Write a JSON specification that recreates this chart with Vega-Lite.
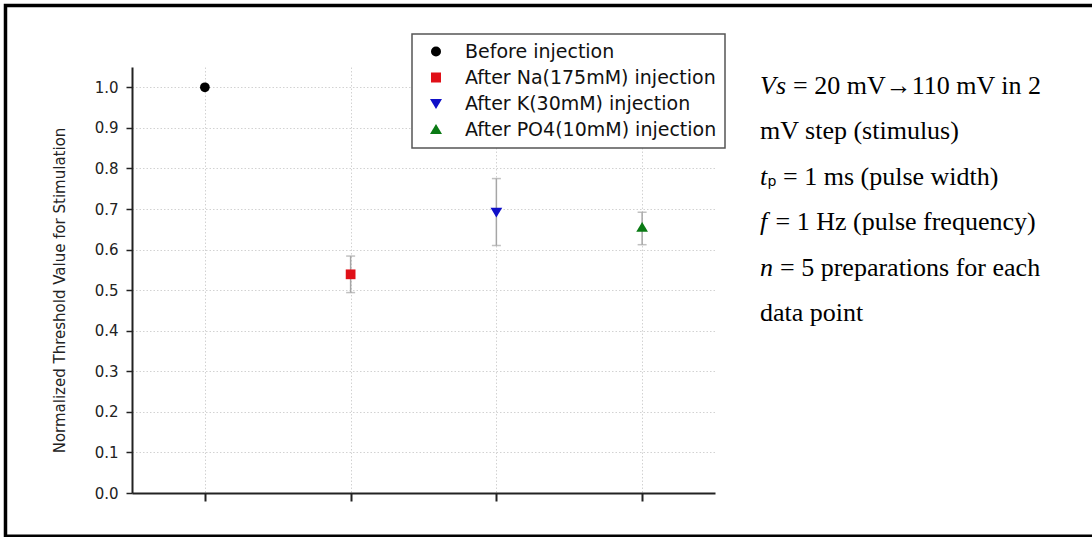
{
  "$schema": "https://vega.github.io/schema/vega-lite/v6.json",
  "width": 583,
  "height": 426,
  "autosize": {"type": "none"},
  "padding": {"left": 132, "top": 67, "right": 377, "bottom": 44},
  "background": "white",
  "config": {
    "view": {"stroke": null},
    "axis": {
      "labelFont": "DejaVu Sans",
      "titleFont": "DejaVu Sans",
      "domainColor": "#222222",
      "domainWidth": 2,
      "tickColor": "#222222",
      "tickWidth": 1.5,
      "gridColor": "#d2d2d2",
      "gridDash": [1.5, 2],
      "gridWidth": 1,
      "labelColor": "#222222",
      "titleColor": "#222222"
    },
    "legend": {
      "strokeWidth": 1.5
    }
  },
  "datasets": {
    "measurements": [
      {"group": "Before injection", "idx": 1, "value": 1.0, "lo": null, "hi": null},
      {"group": "After Na(175mM) injection", "idx": 2, "value": 0.539, "lo": 0.494, "hi": 0.584},
      {"group": "After K(30mM) injection", "idx": 3, "value": 0.692, "lo": 0.61, "hi": 0.775},
      {"group": "After PO4(10mM) injection", "idx": 4, "value": 0.655, "lo": 0.612, "hi": 0.692}
    ]
  },
  "data": {"name": "measurements"},
  "layer": [
    {
      "mark": {"type": "rule", "color": "#a6a6a6", "strokeWidth": 1.5},
      "transform": [{"filter": "datum.lo != null"}],
      "encoding": {
        "x": {"field": "idx", "type": "quantitative", "scale": {"domain": [0.5, 4.5], "nice": false, "zero": false}, "title": null},
        "y": {"field": "lo", "type": "quantitative", "scale": {"domain": [0, 1.05], "nice": false, "zero": false}, "title": "Normalized Threshold Value for Stimulation"},
        "y2": {"field": "hi"}
      }
    },
    {
      "mark": {"type": "tick", "orient": "horizontal", "size": 9, "thickness": 1.5, "color": "#a6a6a6"},
      "transform": [{"filter": "datum.lo != null"}],
      "encoding": {
        "x": {"field": "idx", "type": "quantitative", "title": null},
        "y": {"field": "lo", "type": "quantitative", "title": "Normalized Threshold Value for Stimulation"}
      }
    },
    {
      "mark": {"type": "tick", "orient": "horizontal", "size": 9, "thickness": 1.5, "color": "#a6a6a6"},
      "transform": [{"filter": "datum.lo != null"}],
      "encoding": {
        "x": {"field": "idx", "type": "quantitative", "title": null},
        "y": {"field": "hi", "type": "quantitative", "title": "Normalized Threshold Value for Stimulation"}
      }
    },
    {
      "mark": {"type": "point", "filled": true, "opacity": 1, "size": 95},
      "encoding": {
        "x": {
          "field": "idx", "type": "quantitative", "title": null,
          "axis": {"values": [1, 2, 3, 4], "labels": false, "tickSize": 8, "tickWidth": 2, "grid": true}
        },
        "y": {
          "field": "value", "type": "quantitative",
          "title": "Normalized Threshold Value for Stimulation",
          "axis": {
            "values": [0, 0.1, 0.2, 0.3, 0.4, 0.5, 0.6, 0.7, 0.8, 0.9, 1.0],
            "format": ".1f",
            "labelFontSize": 15,
            "tickSize": 6,
            "labelPadding": 8,
            "titleFontSize": 15,
            "titleFontWeight": "normal",
            "titlePadding": 27,
            "titleY": 223,
            "grid": true
          }
        },
        "color": {
          "field": "group", "type": "nominal",
          "scale": {
            "domain": ["Before injection", "After Na(175mM) injection", "After K(30mM) injection", "After PO4(10mM) injection"],
            "range": ["#000000", "#e01018", "#1010c8", "#0a7a14"]
          },
          "legend": {
            "title": null, "orient": "none", "legendX": 280, "legendY": -33,
            "strokeColor": "#555555", "padding": 8, "fillColor": "white",
            "labelFont": "DejaVu Sans", "labelFontSize": 19, "labelColor": "#111111", "labelLimit": 400,
            "symbolSize": 100, "symbolOffset": 6.5, "labelOffset": 19.5, "rowPadding": 6, "symbolStrokeWidth": 0
          }
        },
        "shape": {
          "field": "group", "type": "nominal",
          "scale": {
            "domain": ["Before injection", "After Na(175mM) injection", "After K(30mM) injection", "After PO4(10mM) injection"],
            "range": ["circle", "square", "M-1.2,-0.9L1.2,-0.9L0,1.1Z", "M-1.2,0.9L1.2,0.9L0,-1.1Z"]
          },
          "legend": {
            "title": null, "orient": "none", "legendX": 280, "legendY": -33,
            "strokeColor": "#555555", "padding": 8, "fillColor": "white",
            "labelFont": "DejaVu Sans", "labelFontSize": 19, "labelColor": "#111111", "labelLimit": 400,
            "symbolSize": 100, "symbolOffset": 6.5, "labelOffset": 19.5, "rowPadding": 6, "symbolStrokeWidth": 0
          }
        }
      }
    },
    {
      "data": {"values": [{}]},
      "mark": {"type": "rect", "fill": null, "fillOpacity": 0, "stroke": "#000000", "strokeWidth": 3.5},
      "encoding": {
        "x": {"datum": -0.368}, "x2": {"datum": 7.114},
        "y": {"datum": -0.1067}, "y2": {"datum": 1.2016}
      }
    },
    {
      "data": {"values": [{}]},
      "mark": {"type": "text", "text": "Vs", "font": "Liberation Serif", "fontStyle": "italic", "fontSize": 26, "align": "left", "baseline": "middle", "color": "#000000"},
      "encoding": {"x": {"datum": 4.809}, "y": {"datum": 1.0032}}
    },
    {
      "data": {"values": [{}]},
      "mark": {"type": "text", "text": "= 20 mV→110 mV in 2", "font": "Liberation Serif", "fontSize": 26, "align": "left", "baseline": "middle", "dx": 33, "color": "#000000"},
      "encoding": {"x": {"datum": 4.809}, "y": {"datum": 1.0032}}
    },
    {
      "data": {"values": [{}]},
      "mark": {"type": "text", "text": "mV step (stimulus)", "font": "Liberation Serif", "fontSize": 26, "align": "left", "baseline": "middle", "color": "#000000"},
      "encoding": {"x": {"datum": 4.809}, "y": {"datum": 0.8913}}
    },
    {
      "data": {"values": [{}]},
      "mark": {"type": "text", "text": "t", "font": "Liberation Serif", "fontStyle": "italic", "fontSize": 26, "align": "left", "baseline": "middle", "color": "#000000"},
      "encoding": {"x": {"datum": 4.809}, "y": {"datum": 0.7794}}
    },
    {
      "data": {"values": [{}]},
      "mark": {"type": "text", "text": "p", "font": "DejaVu Sans", "fontSize": 14, "align": "left", "baseline": "middle", "dx": 7.5, "dy": 5, "color": "#000000"},
      "encoding": {"x": {"datum": 4.809}, "y": {"datum": 0.7794}}
    },
    {
      "data": {"values": [{}]},
      "mark": {"type": "text", "text": "= 1 ms (pulse width)", "font": "Liberation Serif", "fontSize": 26, "align": "left", "baseline": "middle", "dx": 23, "color": "#000000"},
      "encoding": {"x": {"datum": 4.809}, "y": {"datum": 0.7794}}
    },
    {
      "data": {"values": [{}]},
      "mark": {"type": "text", "text": "f", "font": "Liberation Serif", "fontStyle": "italic", "fontSize": 26, "align": "left", "baseline": "middle", "color": "#000000"},
      "encoding": {"x": {"datum": 4.809}, "y": {"datum": 0.6675}}
    },
    {
      "data": {"values": [{}]},
      "mark": {"type": "text", "text": "= 1 Hz (pulse frequency)", "font": "Liberation Serif", "fontSize": 26, "align": "left", "baseline": "middle", "dx": 15.5, "color": "#000000"},
      "encoding": {"x": {"datum": 4.809}, "y": {"datum": 0.6675}}
    },
    {
      "data": {"values": [{}]},
      "mark": {"type": "text", "text": "n", "font": "Liberation Serif", "fontStyle": "italic", "fontSize": 26, "align": "left", "baseline": "middle", "color": "#000000"},
      "encoding": {"x": {"datum": 4.809}, "y": {"datum": 0.5556}}
    },
    {
      "data": {"values": [{}]},
      "mark": {"type": "text", "text": "= 5 preparations for each", "font": "Liberation Serif", "fontSize": 26, "align": "left", "baseline": "middle", "dx": 20, "color": "#000000"},
      "encoding": {"x": {"datum": 4.809}, "y": {"datum": 0.5556}}
    },
    {
      "data": {"values": [{}]},
      "mark": {"type": "text", "text": "data point", "font": "Liberation Serif", "fontSize": 26, "align": "left", "baseline": "middle", "color": "#000000"},
      "encoding": {"x": {"datum": 4.809}, "y": {"datum": 0.4437}}
    }
  ]
}
